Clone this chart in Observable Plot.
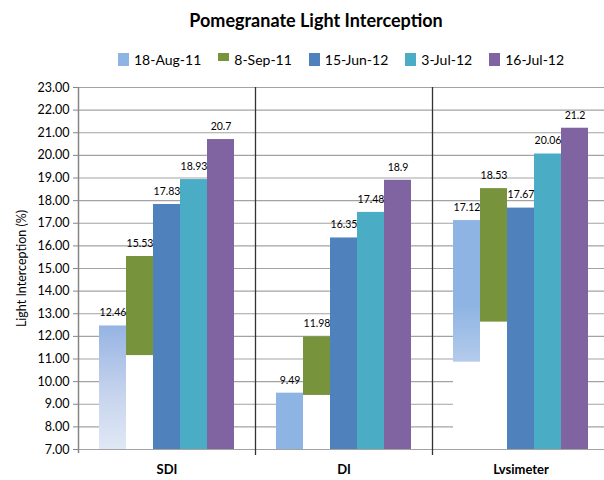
<!DOCTYPE html>
<html><head><meta charset="utf-8">
<script src="https://cdn.jsdelivr.net/npm/d3@7"></script>
<script src="https://cdn.jsdelivr.net/npm/@observablehq/plot@0.6"></script>
<style>
body{margin:0;background:#fff;font-family:Lato,sans-serif;overflow:hidden}
#head{position:relative;height:75px;width:604px}
#title{position:absolute;left:0;width:632px;top:9px;line-height:22px;text-align:center;font-weight:bold;font-size:18px;color:#000}
#legend{position:absolute;left:118px;top:52px;display:flex;gap:17px;font-size:14px;line-height:16px;color:#000}
.item{display:flex;align-items:flex-start;gap:5px}
.sw{width:11px;height:13px;margin-top:1px}
</style></head><body>
<div id="head"><div id="title">Pomegranate Light Interception</div><div id="legend"></div></div>
<div id="chart"></div>
<script>
const categories = ["SDI", "DI", "Lvsimeter"];
const seriesNames = ["18-Aug-11", "8-Sep-11", "15-Jun-12", "3-Jul-12", "16-Jul-12"];
const seriesColors = ["#8eb4e3", "#77933c", "#4f81bd", "#4bacc6", "#8064a2"];
const sdiValues = [12.46, 15.53, 17.83, 18.93, 20.7];
const diValues = [9.49, 11.98, 16.35, 17.48, 18.9];
const lvsValues = [17.12, 18.53, 17.67, 20.06, 21.2];
// value where each bar's visible fill starts (below it the bar is blanked); null = axis
const sdiLower = [null, 11.15, null, null, null];
const diLower = [null, 9.39, null, null, null];
const lvsLower = [10.86, 12.63, null, null, null];
// bars drawn with a fading fill
const sdiGradient = [true, false, false, false, false];
const lvsGradient = [true, false, false, false, false];
const yTicks = d3.range(7, 24);
const yMin = 7, yMax = 23;
const yLabel = "Light Interception (%)";

const valueSets = [sdiValues, diValues, lvsValues];
const lowerSets = [sdiLower, diLower, lvsLower];
const gradSets = [sdiGradient, [false,false,false,false,false], lvsGradient];
const rows = [];
categories.forEach((c, ci) => seriesNames.forEach((s, si) => rows.push({
  cat: c, series: s, value: valueSets[ci][si], lower: lowerSets[ci][si],
  grad: gradSets[ci][si] ? "url(#grad-" + c + ")" : null
})));

// legend
const legend = d3.select("#legend");
seriesNames.forEach((s, i) => {
  const it = legend.append("div").attr("class", "item");
  it.append("div").attr("class", "sw").style("background", seriesColors[i]).style("height", i === 1 ? "8px" : null);
  it.append("span").text(s);
});

const chart = Plot.plot({
  width: 604,
  height: 405,
  marginTop: 12,
  marginBottom: 31,
  marginLeft: 78,
  marginRight: -5,
  style: {fontFamily: "Lato, sans-serif", color: "#000", background: "#fff", overflow: "visible"},
  fx: {domain: categories, padding: 0, label: null},
  x: {domain: seriesNames, paddingInner: 0, paddingOuter: 0.707, axis: null},
  y: {domain: [yMin, yMax], label: null},
  color: {domain: seriesNames, range: seriesColors},
  marks: [
    Plot.gridY(yTicks, {stroke: "#a3a3a3", strokeOpacity: 1, strokeWidth: 1.2}),
    Plot.barY(rows.filter(d => d.lower != null), {fx: "cat", x: "series", y1: yMin, y2: "lower", fill: "#fff"}),
    Plot.barY(rows.filter(d => !d.grad), {fx: "cat", x: "series", y1: d => d.lower ?? yMin, y2: "value", fill: "series"}),
    Plot.barY(rows.filter(d => d.grad && d.cat === "SDI"), {fx: "cat", x: "series", y1: d => d.lower ?? yMin, y2: "value", fill: "url(#grad-SDI)"}),
    Plot.barY(rows.filter(d => d.grad && d.cat === "Lvsimeter"), {fx: "cat", x: "series", y1: d => d.lower ?? yMin, y2: "value", fill: "url(#grad-Lvsimeter)"}),
    Plot.text(rows, {fx: "cat", x: "series", y: "value", text: d => String(d.value), dy: -13, fontSize: 10.5, fill: "#000"}),
    Plot.axisY(yTicks, {tickFormat: d => d.toFixed(2), tickSize: 5, tickPadding: 4, fontSize: 12.5, stroke: "#868686", fill: "#000",
      label: yLabel, labelAnchor: "center", labelArrow: "none", labelOffset: 61}),
    Plot.axisFx({anchor: "bottom", tickSize: 0, tickPadding: 15, fontSize: 13, fontWeight: "bold", label: null})
  ]
});
document.getElementById("chart").appendChild(chart);

// gradients and the category separators, placed with the plot's own scales
const svg = d3.select(chart.tagName.toLowerCase() === "svg" ? chart : chart.querySelector("svg"));
const defs = svg.insert("defs", ":first-child");
const g1 = defs.append("linearGradient").attr("id", "grad-SDI").attr("x1", 0).attr("y1", 0).attr("x2", 0).attr("y2", 1);
g1.append("stop").attr("offset", 0).attr("stop-color", "#95b3e3");
g1.append("stop").attr("offset", 0.5).attr("stop-color", "#c2d1ec");
g1.append("stop").attr("offset", 1).attr("stop-color", "#e0e8f4");
const g2 = defs.append("linearGradient").attr("id", "grad-Lvsimeter").attr("x1", 0).attr("y1", 0).attr("x2", 0).attr("y2", 1);
g2.append("stop").attr("offset", 0).attr("stop-color", "#8eb4e3");
g2.append("stop").attr("offset", 0.6).attr("stop-color", "#8eb4e3");
g2.append("stop").attr("offset", 1).attr("stop-color", "#b4cbec");

const fx = chart.scale("fx"), ys = chart.scale("y");
const yTop = ys.apply(yMax), yBot = ys.apply(yMin);
const lines = svg.append("g");
categories.forEach((c, i) => {
  const x = Math.round(fx.apply(c)) + 0.5;
  lines.append("line").attr("x1", x).attr("x2", x).attr("y1", yTop).attr("y2", yBot + (i === 0 ? 4 : 6))
    .attr("stroke", i === 0 ? "#868686" : "#333").attr("stroke-width", i === 0 ? 1.5 : 1.3);
});
</script>
</body></html>
